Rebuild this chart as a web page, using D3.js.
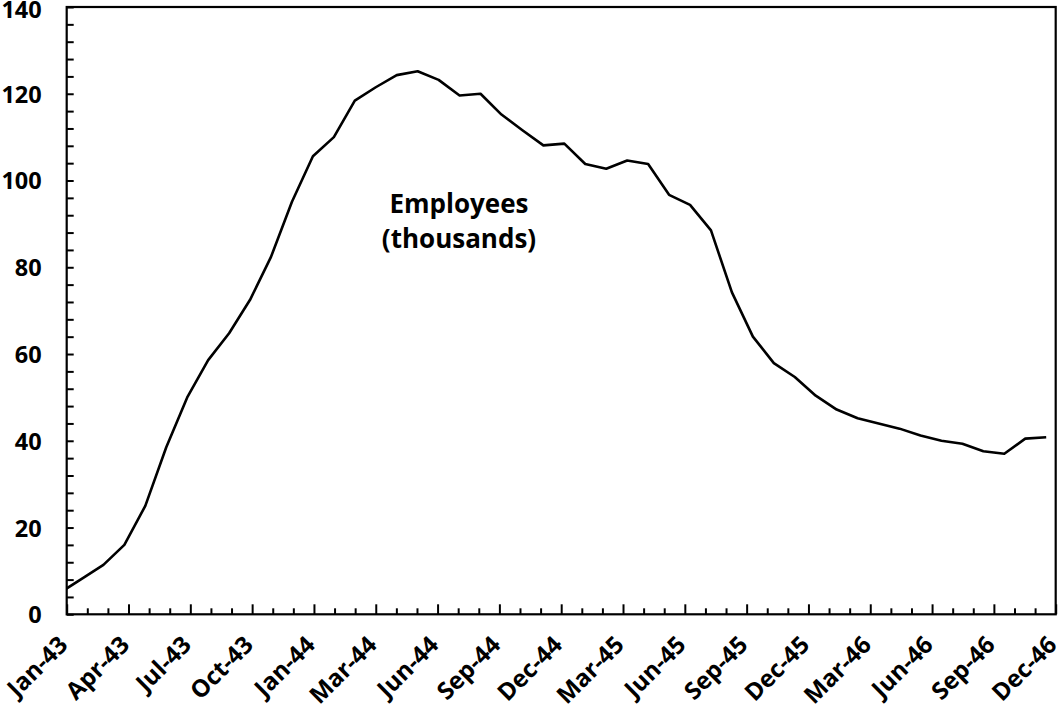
<!DOCTYPE html>
<html>
<head>
<meta charset="utf-8">
<script src="https://cdn.jsdelivr.net/npm/d3@7"></script>
<style>
  html, body { margin: 0; padding: 0; background: #fff; }
  svg { display: block; }
  text { font-family: "Open Sans", "DejaVu Sans", sans-serif; font-weight: 700; fill: #000; }
</style>
</head>
<body>
<svg id="chart" width="1063" height="716"></svg>
<script>
// ---- data ----
const months = d3.range(0, 48); // monthly observations
const employees = [
  5.2, 8.3, 11.4, 16.0, 25.0, 38.5, 50.0, 58.6, 64.8, 72.5, 82.4, 95.1,
  105.6, 110.0, 118.4, 121.5, 124.3, 125.2, 123.2, 119.6, 120.0, 115.2, 111.6, 108.1,
  108.5, 103.8, 102.7, 104.6, 103.8, 96.7, 94.4, 88.5, 74.2, 64.0, 57.9, 54.7,
  50.4, 47.2, 45.2, 44.0, 42.8, 41.2, 40.0, 39.3, 37.6, 37.0, 40.5, 40.8
];
const tickLabels = ["Jan-43","Apr-43","Jul-43","Oct-43","Jan-44","Mar-44","Jun-44","Sep-44",
  "Dec-44","Mar-45","Jun-45","Sep-45","Dec-45","Mar-46","Jun-46","Sep-46","Dec-46"];
const yTicks = d3.range(0, 141, 4);
const annotation = ["Employees", "(thousands)"];

// ---- layout ----
const L = 66.7, R = 1055.7, T = 7, B = 614.3;
const svg = d3.select("#chart");

const x = d3.scaleLinear().domain([0, 48]).range([L, R]);          // category tick positions
const xData = d3.scaleLinear().domain([0, 47]).range([61.5, 1046.2]); // observation positions
const y = d3.scaleLinear().domain([0, 140]).range([B, T]);

svg.append("defs").append("clipPath").attr("id", "clip")
  .append("rect").attr("x", L).attr("y", T - 5).attr("width", R - L).attr("height", B - T + 5);

// line
const line = d3.line().x((d, i) => xData(months[i])).y(d => y(d));
svg.append("path")
  .datum(employees)
  .attr("clip-path", "url(#clip)")
  .attr("d", line)
  .attr("fill", "none")
  .attr("stroke", "#000")
  .attr("stroke-width", 2.6)
  .attr("stroke-linejoin", "round");

// y axis
const yAxis = d3.axisLeft(y)
  .tickValues(yTicks)
  .tickSizeInner(-7)
  .tickSizeOuter(0)
  .tickPadding(25)
  .tickFormat(d => d % 20 === 0 ? d : "");
const gy = svg.append("g").attr("transform", `translate(${L},0)`).call(yAxis);
gy.select(".domain").remove();
gy.selectAll(".tick line").attr("stroke", "#000").attr("stroke-width", 2);
gy.selectAll(".tick text").attr("font-size", 23.5)
  .attr("dy", d => d === 140 ? "0.44em" : "0.36em")
  .style("font-family", '"Open Sans", sans-serif').style("font-weight", 700);

// x axis
const xTicks = d3.range(0, 49);
const xAxis = d3.axisBottom(x).tickValues(xTicks).tickSizeOuter(0).tickSizeInner(-6).tickFormat("");
const gx = svg.append("g").attr("transform", `translate(0,${B})`).call(xAxis);
gx.select(".domain").remove();
gx.selectAll(".tick line")
  .attr("stroke", "#000").attr("stroke-width", 2)
  .attr("y2", d => d % 3 === 0 ? -10 : -6);

// x labels
svg.append("g").selectAll("text")
  .data(tickLabels)
  .join("text")
  .attr("transform", (d, i) => `translate(${x(i * 3) + 2.5},${B + 32}) rotate(-45)`)
  .attr("text-anchor", "end")
  .attr("font-size", 24)
  .text(d => d);

// frame
svg.append("rect")
  .attr("x", L).attr("y", T).attr("width", R - L).attr("height", B - T)
  .attr("fill", "none").attr("stroke", "#000").attr("stroke-width", 2.2);

// annotation
svg.append("text")
  .attr("x", 459).attr("text-anchor", "middle").attr("font-size", 26)
  .selectAll("tspan").data(annotation).join("tspan")
  .attr("x", 459).attr("y", (d, i) => 213 + i * 35)
  .text(d => d);
</script>
</body>
</html>
